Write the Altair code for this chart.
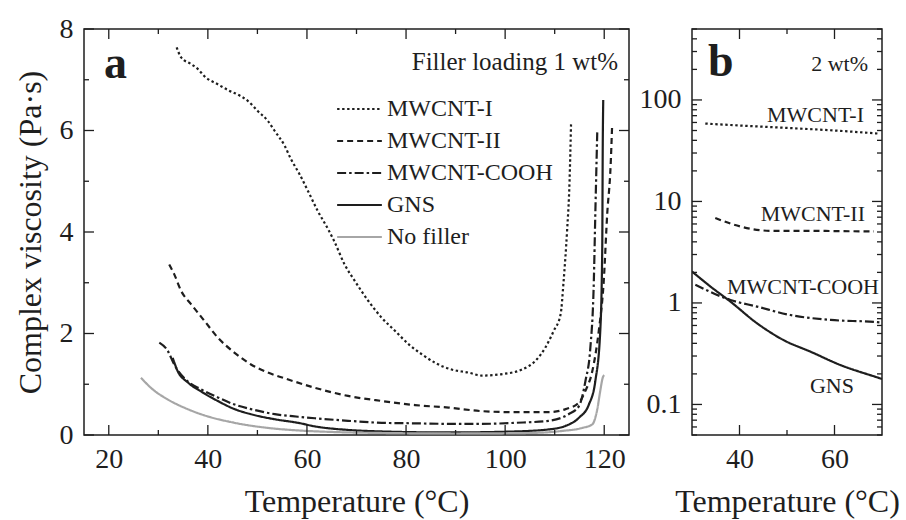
import altair as alt
import pandas as pd

# ---------------- data ----------------
series_names = ["MWCNT-I", "MWCNT-II", "MWCNT-COOH", "GNS", "No filler"]

a_T_I = [33.7, 34.6, 36.6, 38.0, 39.3, 42.0, 44.4, 46.0, 48.1, 50.1, 52.1, 53.5, 55.5, 56.8, 58.5,
         60.2, 62.2, 64.3, 65.5, 67.6, 69.7, 72.4, 75.1, 77.8, 80.5, 83.2, 85.9, 89.2, 92.6, 95.3,
         97.5, 99.4, 103.4, 106.1, 108.1, 109.8, 111.2, 111.8, 112.5, 113.0, 113.3]
a_V_I = [7.64, 7.44, 7.31, 7.21, 7.07, 6.91, 6.78, 6.71, 6.58, 6.38, 6.19, 5.99, 5.70, 5.43, 5.14,
         4.81, 4.41, 4.05, 3.82, 3.36, 3.03, 2.64, 2.31, 2.05, 1.79, 1.59, 1.42, 1.29, 1.23, 1.17,
         1.18, 1.20, 1.29, 1.46, 1.72, 2.05, 2.38, 3.03, 4.02, 5.00, 6.12]

a_T_II = [32.2, 33.2, 34.6, 36.6, 39.3, 42.0, 45.4, 48.7, 52.1, 55.4, 61.6, 68.3, 75.1, 81.8, 88.6,
          95.3, 102.0, 108.8, 112.2, 114.9, 116.2, 117.6, 118.9, 119.9, 120.6, 121.3, 121.6]
a_V_II = [3.36, 3.17, 2.84, 2.58, 2.25, 1.92, 1.62, 1.39, 1.23, 1.12, 0.93, 0.77, 0.67, 0.59, 0.54,
          0.47, 0.45, 0.45, 0.51, 0.64, 0.87, 1.26, 2.05, 3.03, 4.35, 5.33, 6.12]

a_T_C = [30.2, 31.9, 33.2, 35.9, 38.6, 42.0, 45.4, 48.7, 53.5, 58.2, 61.6, 68.3, 75.1, 81.8, 88.6,
         95.3, 102.0, 108.8, 112.8, 114.9, 116.2, 117.2, 117.9, 118.2, 118.6]
a_V_C = [1.82, 1.66, 1.39, 1.06, 0.90, 0.74, 0.60, 0.51, 0.41, 0.36, 0.33, 0.28, 0.24, 0.23, 0.22,
         0.22, 0.24, 0.28, 0.41, 0.57, 1.06, 1.72, 3.03, 4.35, 6.0]

a_T_G = [32.9, 33.9, 35.9, 38.6, 42.0, 45.4, 48.7, 53.5, 58.2, 61.6, 68.3, 75.1, 88.6, 102.0, 108.8,
         112.2, 114.9, 116.9, 118.2, 119.2, 119.6, 119.7, 119.8]
a_V_G = [1.52, 1.26, 1.04, 0.86, 0.67, 0.51, 0.41, 0.31, 0.24, 0.17, 0.10, 0.07, 0.05, 0.07, 0.11,
         0.18, 0.34, 0.60, 1.06, 2.05, 3.69, 5.66, 6.6]

a_T_N = [26.5, 28.5, 31.9, 35.2, 38.6, 45.4, 52.1, 58.2, 65.0, 75.0, 90.0, 105.0, 111.5, 115.6,
         117.6, 118.6, 119.2, 119.7, 120.0]
a_V_N = [1.13, 0.93, 0.70, 0.54, 0.41, 0.24, 0.14, 0.09, 0.06, 0.04, 0.03, 0.04, 0.08, 0.14,
         0.21, 0.51, 0.87, 1.13, 1.18]

b_T_I = [32.8, 40.0, 50.0, 60.0, 69.3]
b_V_I = [58.5, 56.0, 53.0, 50.0, 46.6]
b_T_II = [34.9, 40.2, 46.5, 54.3, 61.0, 68.3]
b_V_II = [6.86, 5.66, 5.14, 5.14, 5.10, 5.06]
b_T_C = [30.7, 38.1, 43.7, 50.7, 59.2, 68.3, 70.0]
b_V_C = [1.51, 1.07, 0.92, 0.76, 0.68, 0.65, 0.64]
b_T_G = [30.0, 33.9, 38.1, 43.7, 49.3, 55.0, 61.3, 69.7, 70.0]
b_V_G = [2.04, 1.45, 1.03, 0.63, 0.43, 0.33, 0.244, 0.18, 0.178]

# tick values
xa_major = [20, 40, 60, 80, 100, 120]
xa_minor = [30, 50, 70, 90, 110]
ya_major = [0, 2, 4, 6, 8]
ya_minor = [1, 3, 5, 7]
xb_major = [40, 60]
xb_minor = [50]
yb_major = [0.1, 1, 10, 100]
yb_minor = [0.05, 0.06, 0.07, 0.08, 0.09, 0.2, 0.3, 0.4, 0.5, 0.6, 0.7, 0.8, 0.9,
            2, 3, 4, 5, 6, 7, 8, 9, 20, 30, 40, 50, 60, 70, 80, 90, 200, 300, 400, 500]

# texts
a_label = "a"
a_note = "Filler loading 1 wt%"
b_label = "b"
b_note = "2 wt%"
b_series_labels = ["MWCNT-I", "MWCNT-II", "MWCNT-COOH", "GNS"]
x_title = "Temperature (°C)"
y_title = "Complex viscosity (Pa·s)"

# ---------------- styling ----------------
FONT = "Liberation Serif"
INK = "#1e1e1e"
GRAY = "#a6a6a6"
colors = [INK, INK, INK, INK, GRAY]
dashes = [[2.4, 2.6], [6, 4], [9, 3, 2.5, 3], [1, 0], [1, 0]]

WA, HA = 545, 406
WB, HB = 190, 406
MAJ, MIN = 10, 5

# ---------------- panel a ----------------
rows = []
for name, ts, vs in zip(series_names,
                        [a_T_I, a_T_II, a_T_C, a_T_G, a_T_N],
                        [a_V_I, a_V_II, a_V_C, a_V_G, a_V_N]):
    for i, (t, v) in enumerate(zip(ts, vs)):
        rows.append({"series": name, "T": t, "V": v, "order": i})
df_a = pd.DataFrame(rows)

xa_scale = alt.Scale(domain=[15, 125], nice=False, zero=False)
ya_scale = alt.Scale(domain=[0, 8], nice=False)

XA = alt.X("T:Q", scale=xa_scale,
           axis=alt.Axis(values=xa_major, title=x_title, labelPadding=10, titlePadding=13))
YA = alt.Y("V:Q", scale=ya_scale,
           axis=alt.Axis(values=ya_major, title=y_title, labelPadding=11, titlePadding=12))

lines_a = alt.Chart(df_a).mark_line(strokeWidth=2.2, interpolate="monotone", clip=True).encode(
    x=XA, y=YA,
    color=alt.Color("series:N", scale=alt.Scale(domain=series_names, range=colors),
                    legend=alt.Legend(title="", orient="none", legendX=252, legendY=64,
                                      padding=0, symbolType="stroke", symbolSize=2000,
                                      symbolStrokeWidth=2.2, labelFont=FONT,
                                      labelFontSize=24, labelColor=INK, labelOffset=4,
                                      clipHeight=32, rowPadding=0, labelLimit=400)),
    strokeDash=alt.StrokeDash("series:N", scale=alt.Scale(domain=series_names, range=dashes)),
    order="order:Q",
)


def ticks_x(values, scale, length, h, field="T"):
    d = pd.DataFrame({field: values})
    bottom = alt.Chart(d).mark_rule(color=INK, strokeWidth=1.3).encode(
        x=alt.X(f"{field}:Q", scale=scale), y=alt.value(h), y2=alt.value(h - length))
    top = alt.Chart(d).mark_rule(color=INK, strokeWidth=1.3).encode(
        x=alt.X(f"{field}:Q", scale=scale), y=alt.value(0), y2=alt.value(length))
    return [bottom, top]


def ticks_y(values, scale, length, w, field="V"):
    d = pd.DataFrame({field: values})
    left = alt.Chart(d).mark_rule(color=INK, strokeWidth=1.3).encode(
        y=alt.Y(f"{field}:Q", scale=scale), x=alt.value(0), x2=alt.value(length))
    right = alt.Chart(d).mark_rule(color=INK, strokeWidth=1.3).encode(
        y=alt.Y(f"{field}:Q", scale=scale), x=alt.value(w), x2=alt.value(w - length))
    return [left, right]


def text_mark(txt, x, y, size, align="left", bold=False):
    return alt.Chart(pd.DataFrame({"t": [txt]})).mark_text(
        font=FONT, fontSize=size, align=align, baseline="alphabetic",
        fontWeight="bold" if bold else "normal", color=INK
    ).encode(text="t:N", x=alt.value(x), y=alt.value(y))


layers_a = [lines_a]
layers_a += ticks_x(xa_major, xa_scale, MAJ, HA) + ticks_x(xa_minor, xa_scale, MIN, HA)
layers_a += ticks_y(ya_major, ya_scale, MAJ, WA) + ticks_y(ya_minor, ya_scale, MIN, WA)
layers_a += [text_mark(a_label, 20, 49, 46, bold=True),
             text_mark(a_note, 534, 41, 25, align="right")]

panel_a = alt.layer(*layers_a).properties(width=WA, height=HA)

# ---------------- panel b ----------------
xb_scale = alt.Scale(domain=[30, 70], nice=False, zero=False)
yb_scale = alt.Scale(type="log", domain=[0.05, 500], nice=False)

XB = alt.X("T:Q", scale=xb_scale,
           axis=alt.Axis(values=xb_major, title=x_title, labelPadding=10, titlePadding=13))
YB = alt.Y("V:Q", scale=yb_scale,
           axis=alt.Axis(values=yb_major, title="", format="~g", labelPadding=11))

layers_b = []
for name, ts, vs, c, dsh in zip(series_names[:4], [b_T_I, b_T_II, b_T_C, b_T_G],
                                [b_V_I, b_V_II, b_V_C, b_V_G], colors, dashes):
    d = pd.DataFrame({"T": ts, "V": vs})
    layers_b.append(alt.Chart(d).mark_line(strokeWidth=2.2, color=c, strokeDash=dsh,
                                           interpolate="monotone", clip=True).encode(x=XB, y=YB))
layers_b += ticks_x(xb_major, xb_scale, MAJ, HB) + ticks_x(xb_minor, xb_scale, MIN, HB)
layers_b += ticks_y(yb_major, yb_scale, MAJ, WB) + ticks_y(yb_minor, yb_scale, MIN, WB)
layers_b += [text_mark(b_label, 16, 47, 46, bold=True),
             text_mark(b_note, 176, 42, 22, align="right"),
             text_mark(b_series_labels[0], 172, 93, 22, align="right"),
             text_mark(b_series_labels[1], 173, 192, 22, align="right"),
             text_mark(b_series_labels[2], 187, 265, 22, align="right"),
             text_mark(b_series_labels[3], 162, 364, 22, align="right")]

panel_b = alt.layer(*layers_b).properties(width=WB, height=HB)

chart = alt.hconcat(panel_a, panel_b, spacing=7).properties(
    padding={"left": 13, "top": 14, "right": 5, "bottom": 5},
    background="white"
).configure_view(stroke=INK, strokeWidth=1.5).configure_axis(
    labelFont=FONT, labelFontSize=28, labelColor=INK,
    titleFont=FONT, titleFontSize=32, titleFontWeight="normal", titleColor=INK,
    ticks=False, domain=False, grid=False
)

chart.save("out.html", embed_options={"renderer": "svg", "actions": False})
